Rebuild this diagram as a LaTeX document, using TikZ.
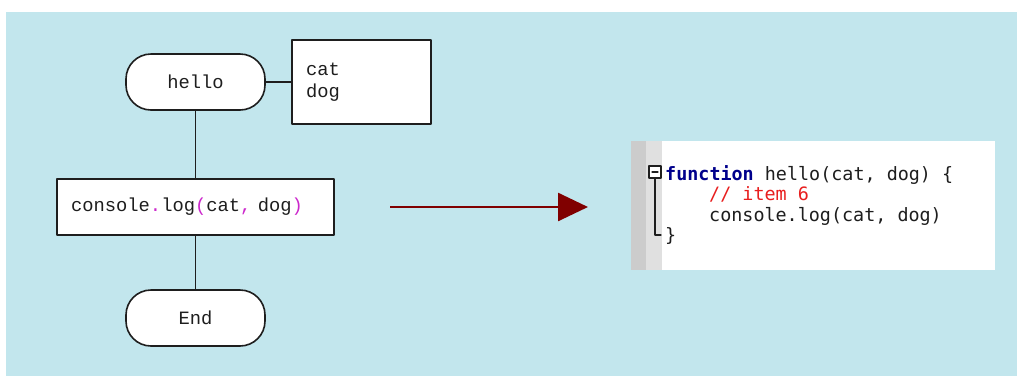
\documentclass[tikz,border=0pt]{standalone}
\usepackage{fontspec}
\setmonofont{Liberation Mono}
\newfontfamily\codefont{DejaVu Sans Mono}
\usetikzlibrary{arrows.meta}
\definecolor{skyback}{RGB}{194,230,237}
\definecolor{inkgray}{RGB}{30,30,30}
\definecolor{punctpink}{RGB}{204,40,204}
\definecolor{arrowred}{RGB}{128,0,0}
\definecolor{gutterdark}{RGB}{204,204,204}
\definecolor{gutterlight}{RGB}{224,224,224}
\definecolor{keyblue}{RGB}{0,0,140}
\definecolor{commentred}{RGB}{232,30,30}
\newcommand{\pk}[1]{\textcolor{punctpink}{#1}}
\begin{document}
\begin{tikzpicture}[x=1pt, y=-1pt, line cap=round, line join=round, font=\ttfamily\fontsize{18.8}{22}\selectfont]
			\tikzset{terminal/.style={draw=inkgray, fill=white, line width=1.6pt, rounded corners=25pt, minimum width=139pt, minimum height=56pt, inner sep=0pt, text=inkgray},
				actionbox/.style={draw=inkgray, fill=white, line width=1.6pt, inner xsep=14pt, inner ysep=0pt, align=left, text=inkgray},
				link/.style={draw=inkgray, line width=1.6pt},
				codeline/.style={anchor=base west, inner sep=0pt, font=\codefont\fontsize{18.4}{21}\selectfont, text=inkgray}}
			\useasboundingbox (0,0) rectangle (1017,376);
			\fill[skyback] (6,12) rectangle (1017,376);
			\node[terminal] (hello) at (195.5,82) {hello};
			\node[actionbox, text width=111pt, minimum height=84pt] (params) at (361.5,82) {cat\\dog};
			\node[actionbox, text width=249pt, minimum height=56pt] (logcall) at (195.5,207) {console\pk{.}log\pk{(}cat\pk{,} dog\pk{)}};
			\node[terminal] (finish) at (195.5,318) {End};
			\draw[link] (hello.east) -- (params.west);
			\draw[link] (hello.south) -- (logcall.north);
			\draw[link] (logcall.south) -- (finish.north);
			\coordinate (arrowstart) at (390,207);
			\coordinate (arrowend) at (588,207);
			\draw[arrowred, line width=2.6pt, line cap=butt, -{Triangle[length=30pt, width=28pt]}] (arrowstart) -- (arrowend);
			\fill[white] (631,141) rectangle (995,270);
			\fill[gutterdark] (631,141) rectangle (646,270);
			\fill[gutterlight] (646,141) rectangle (662,270);
			\draw[inkgray, line width=1.3pt, fill=white] (649,166) rectangle (661,178);
			\draw[inkgray, line width=1.3pt] (652,172) -- (658,172);
			\draw[inkgray, line width=1.3pt] (655,178) -- (655,235) -- (661,235);
			\node[codeline] (codeA) at (665,180) {\textcolor{keyblue}{\bfseries function} hello(cat, dog) \{};
			\node[codeline, text=commentred] (codeB) at (709,200.5) {// item 6};
			\node[codeline] (codeC) at (709,221) {console.log(cat, dog)};
			\node[codeline] (codeD) at (665,241.5) {\}};
		\end{tikzpicture}
\end{document}
